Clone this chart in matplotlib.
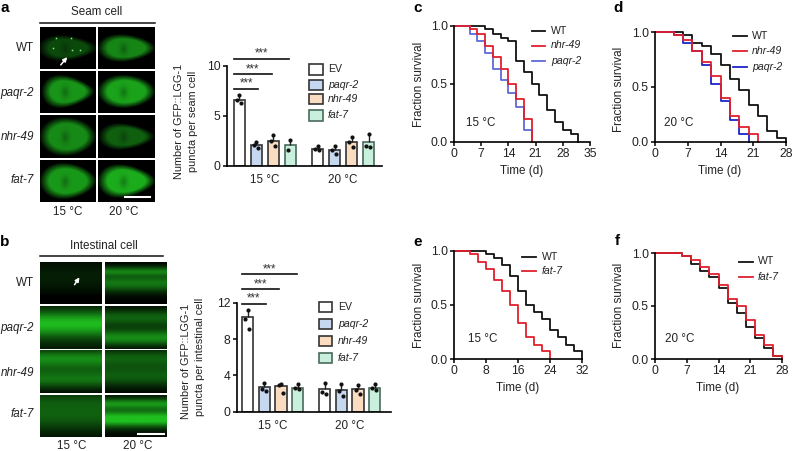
import numpy as np
import matplotlib
matplotlib.use('Agg')
import matplotlib.pyplot as plt
from matplotlib.colors import LinearSegmentedColormap
from matplotlib.patches import Rectangle

plt.rcParams['font.family'] = ['Liberation Sans', 'DejaVu Sans']
plt.rcParams['axes.linewidth'] = 1.2
TXT = '#222222'
LABEL = 8.4
BAR_LABEL = 7.8
TICK = 8.7
LEG = 7.6

# ─── Data ──────────────────────────────────────────────────────────────────────
genes = ['EV', 'paqr-2', 'nhr-49', 'fat-7']
bar_colors = ['#ffffff', '#c6d8f0', '#fadcc0', '#c8f0dc']
bar_edges = ['#333333', '#333333', '#333333', '#4a6a5c']
temps = ['15 °C', '20 °C']

seam_means = [6.6, 2.1, 2.5, 2.1, 1.75, 1.6, 2.4, 2.35]
seam_points = [[7.1, 6.6, 6.3], [2.4, 2.1, 1.8], [3.1, 2.5, 2.0], [2.6, 1.6],
               [2.0, 1.7, 1.6], [2.0, 1.6, 1.2], [2.9, 2.4, 1.9], [3.2, 2.0, 1.95]]
seam_ticks = [0, 5, 10]
seam_sig = [7.74, 9.2, 10.73]

gut_means = [10.4, 2.7, 2.8, 2.65, 2.45, 2.35, 2.5, 2.65]
gut_points = [[11.2, 10.2, 9.1], [3.2, 2.5, 2.3], [3.1, 2.9, 2.1], [3.1, 2.6, 2.5],
              [3.2, 2.2, 1.9], [3.1, 2.3, 1.7], [2.9, 2.4, 2.0], [3.1, 2.6, 2.4]]
gut_ticks = [0, 4, 8, 12]
gut_sig = [11.9, 13.47, 15.16]

# survival curves: days and fraction surviving from that day on
c_wt_days = [0, 8, 10, 12, 14, 16, 18, 20, 22, 24, 26, 28, 30, 32]
c_wt_surv = [1, .97, .93, .9, .87, .7, .6, .5, .4, .27, .17, .1, .07, 0]
c_nhr_days = [0, 4, 6, 8, 10, 12, 14, 16, 18, 20]
c_nhr_surv = [1, .97, .93, .83, .73, .63, .5, .37, .2, 0]
c_paqr_days = [0, 4, 6, 8, 10, 12, 14, 16, 18, 20]
c_paqr_surv = [1, .93, .87, .77, .63, .53, .42, .3, .1, 0]

d_wt_days = [0, 6, 8, 10, 12, 14, 16, 18, 20, 22, 24, 26, 28]
d_wt_surv = [1, .97, .9, .87, .8, .7, .57, .47, .33, .23, .1, .03, 0]
d_nhr_days = [0, 4, 6, 8, 10, 12, 14, 16, 18, 20, 22]
d_nhr_surv = [1, .97, .93, .83, .73, .6, .4, .23, .13, .07, 0]
d_paqr_days = [0, 4, 6, 8, 10, 12, 14, 16, 18, 20]
d_paqr_surv = [1, .97, .9, .83, .7, .53, .37, .2, .07, 0]

e_wt_days = [0, 8, 10, 12, 14, 16, 18, 20, 22, 24, 26, 28, 30, 32]
e_wt_surv = [1, .97, .93, .87, .77, .63, .5, .43, .37, .27, .2, .13, .07, 0]
e_fat_days = [0, 4, 6, 8, 10, 12, 14, 16, 18, 20, 22, 24]
e_fat_surv = [1, .97, .9, .83, .73, .63, .5, .33, .2, .13, .07, 0]

f_wt_days = [0, 6, 8, 10, 12, 14, 16, 18, 20, 22, 24, 26, 28]
f_wt_surv = [1, .97, .9, .83, .77, .67, .53, .43, .3, .2, .1, .03, 0]
f_fat_days = [0, 6, 8, 10, 12, 14, 16, 18, 20, 22, 24, 26, 28]
f_fat_surv = [1, .97, .93, .87, .8, .7, .57, .5, .37, .23, .13, .03, 0]

# micrograph look: seam = rx, ry, brightness, taper per panel; gut = (y, width, brightness) bands
seam_blobs = [(.49, .28, .38, .5), (.47, .30, .70, .4),
              (.44, .34, .78, .6), (.47, .36, .85, .2),
              (.47, .42, .72, .2), (.46, .28, .50, .5),
              (.47, .40, .80, .3), (.47, .36, .90, .5)]
gut_bands = [[(.35, .40, .16), (.85, .06, -.1)], [(.22, .10, .55), (.50, .22, .62), (.1, .08, .1)],
             [(.40, .30, .75), (.55, .55, .25)], [(.25, .18, .38), (.75, .18, .60), (.5, .4, .2)],
             [(.2, .22, .62), (.70, .22, .50), (.45, .3, .2)], [(.20, .22, .48), (.62, .25, .48)],
             [(.45, .45, .50), (.1, .2, .15)], [(.20, .12, .55), (.58, .18, .85), (.4, .4, .3)]]

W, H = 792, 451
fig = plt.figure(figsize=(W / 100, H / 100), dpi=100)
GREEN = LinearSegmentedColormap.from_list('gfp', ['#000000', '#1fbf1f'])


def px_axes(x0, y_top, x1, y_bottom):
    return fig.add_axes([x0 / W, 1 - y_bottom / H, (x1 - x0) / W, (y_bottom - y_top) / H])


# overlay in pixel coordinates for labels, legends and rules
ov = fig.add_axes([0, 0, 1, 1], zorder=10)
ov.set_xlim(0, W)
ov.set_ylim(H, 0)
ov.axis('off')


def put(x, y, s, **kw):
    kw.setdefault('ha', 'center')
    kw.setdefault('va', 'center')
    kw.setdefault('color', TXT)
    ov.text(x, y, s, **kw)


def seam_image(box, rx, ry, level, taper):
    yy, xx = np.mgrid[0:1:60j, 0:1:80j]
    # cell gets thinner towards the right
    local_ry = ry * (1 - taper * np.clip((xx - .5) / rx, -1, 1) * .6)
    r = np.sqrt(((xx - .5) / rx) ** 2 + ((yy - .5) / local_ry) ** 2)
    img = level * np.clip((1.1 - r) / .38, 0, 1)
    # dark nucleus
    img *= 1 - .25 * np.exp(-(((xx - .45) / .07) ** 2 + ((yy - .52) / .14) ** 2))
    ax = px_axes(*box)
    ax.imshow(img, cmap=GREEN, vmin=0, vmax=1, aspect='auto', extent=[0, 1, 1, 0])
    ax.axis('off')


def gut_image(box, bands):
    yy, xx = np.mgrid[0:1:60j, 0:1:80j]
    img = np.zeros_like(yy)
    for y, w, level in bands:
        img += level * np.exp(-((yy - y) / w) ** 2)
    ax = px_axes(*box)
    ax.imshow(np.clip(img, 0, 1), cmap=GREEN, vmin=0, vmax=1, aspect='auto', extent=[0, 1, 1, 0])
    ax.axis('off')


# ─── Micrographs a ─────────────────────────────────────────────────────────────
seam_cols = [(40, 96), (98, 155)]
seam_rows = [(27, 69), (71, 113), (115, 158), (160, 202)]
for i, (y0, y1) in enumerate(seam_rows):
    for j, (x0, x1) in enumerate(seam_cols):
        seam_image((x0, y0, x1, y1), *seam_blobs[i * 2 + j])

put(97, 12, 'Seam cell', fontsize=LABEL)
ov.plot([40, 155], [22.5, 22.5], color='#111111', lw=1.1)
for y, name in zip([48, 93, 137, 180], ['WT', 'paqr-2', 'nhr-49', 'fat-7']):
    put(34, y, name, ha='right', fontsize=LABEL, style='normal' if name == 'WT' else 'italic')
put(68, 212, temps[0], fontsize=LABEL)
put(124, 212, temps[1], fontsize=LABEL)
ov.plot([125, 150], [197, 197], color='white', lw=1.5)
ov.annotate('', xy=(69, 55), xytext=(59, 67),
            arrowprops=dict(arrowstyle='-|>', color='white', lw=1.1, mutation_scale=6))
for x, y in [(53, 48), (71, 38), (72, 50), (56, 38), (80, 50)]:
    ov.plot(x, y, 's', color='#7df07d', ms=1.1, mew=0)

# ─── Micrographs b ─────────────────────────────────────────────────────────────
gut_cols = [(40, 102), (105, 167)]
gut_rows = [(262, 304), (306, 349), (350, 393), (395, 437)]
for i, (y0, y1) in enumerate(gut_rows):
    for j, (x0, x1) in enumerate(gut_cols):
        gut_image((x0, y0, x1, y1), gut_bands[i * 2 + j])

put(104, 246, 'Intestinal cell', fontsize=LABEL)
ov.plot([40, 163], [256, 256], color='#111111', lw=1.1)
for y, name in zip([283, 328, 373, 414], ['WT', 'paqr-2', 'nhr-49', 'fat-7']):
    put(34, y, name, ha='right', fontsize=LABEL, style='normal' if name == 'WT' else 'italic')
put(72, 446, temps[0], fontsize=LABEL)
put(138, 446, temps[1], fontsize=LABEL)
ov.plot([138, 164], [434, 434], color='white', lw=1.5)
ov.annotate('', xy=(81, 275), xytext=(73, 287),
            arrowprops=dict(arrowstyle='-|>', color='white', lw=1.1, mutation_scale=6))

# ─── Bar charts ────────────────────────────────────────────────────────────────
bar_x = [0, 1, 2, 3, 4.6, 5.6, 6.6, 7.6]


def bar_panel(x_axis, x_right, y_top, y_bottom, first_bar, step, top_val, means, points, ticks, sig, sig_start, sig_ends):
    ax = px_axes(x_axis, y_top, x_right, y_bottom)
    ax.set_xlim((x_axis - first_bar) / step, (x_right - first_bar) / step)
    ax.set_ylim(0, top_val)
    ax.patch.set_alpha(0)
    ax.bar(bar_x, means, width=.68, color=bar_colors * 2, edgecolor=bar_edges * 2, linewidth=1.2)
    for x, m, pts in zip(bar_x, means, points):
        ax.errorbar(x, m, yerr=[[0], [max(pts) - m]], color='#222222', elinewidth=1.0, capsize=0)
        ax.scatter([x + d for d, _ in zip([0, -.14, .1], pts)], pts, s=9, color='#111111',
                   linewidths=0, zorder=5, clip_on=False)
    ax.set_xticks([1.5, 6.1])
    ax.set_xticklabels(temps, fontsize=LABEL, color=TXT)
    ax.tick_params(axis='x', length=0, pad=6)
    ax.set_yticks(ticks)
    ax.tick_params(axis='y', length=3, width=1.1, labelsize=TICK, labelcolor=TXT, pad=1.5)
    ax.spines[['top', 'right']].set_visible(False)
    for y, x_end in zip(sig, sig_ends):
        ax.plot([sig_start, x_end], [y, y], color='#111111', lw=1.2, clip_on=False)
        ax.text((sig_start + x_end) / 2, y - .12 * top_val / 10, '***', ha='center', va='bottom',
                fontsize=LABEL, color='#333333', clip_on=False)


bar_panel(227, 382, 66, 166, 239.3, 17, 10, seam_means, seam_points, seam_ticks, seam_sig, -.29, [1.12, 1.9, 2.94])
bar_panel(237, 391, 302.7, 411.7, 247.7, 16.7, 12, gut_means, gut_points, gut_ticks, gut_sig, -.36, [1.1, 1.89, 2.93])

put(179, 121, 'Number of GFP::LGG-1', rotation=90, fontsize=BAR_LABEL)
put(193, 121, 'puncta per seam cell', rotation=90, fontsize=BAR_LABEL)
put(186, 361, 'Number of GFP::LGG-1', rotation=90, fontsize=BAR_LABEL)
put(200, 357, 'puncta per intestinal cell', rotation=90, fontsize=BAR_LABEL)


def box_legend(x0, x1, spans, x_text):
    for (y0, y1), name, fc, ec in zip(spans, genes, bar_colors, bar_edges):
        ov.add_patch(Rectangle((x0, y0), x1 - x0, y1 - y0, fc=fc, ec=ec, lw=1.2))
        put(x_text, (y0 + y1) / 2, name, ha='left', fontsize=LEG, style='normal' if name == 'EV' else 'italic')


box_legend(309, 322.5, [(64, 75), (79.5, 89.5), (94, 104), (109.5, 120.5)], 328)
box_legend(319, 332, [(302, 312), (319, 329), (336, 346), (353, 363)], 338)

# ─── Survival curves ───────────────────────────────────────────────────────────
BLACK, RED = '#111111', '#e01f2d'


def surv_panel(x0, x1, y_top, y_bottom, xmax, xticks, curves):
    ax = px_axes(x0, y_top, x1, y_bottom)
    ax.set_xlim(0, xmax)
    ax.set_ylim(0, 1)
    for days, surv, color in curves:
        ax.plot(days, surv, drawstyle='steps-post', color=color, lw=1.3, clip_on=False)
    ax.set_xticks(xticks)
    ax.set_yticks([0, .5, 1])
    ax.set_yticklabels(['0.0', '0.5', '1.0'])
    ax.spines[['top', 'right']].set_visible(False)
    ax.tick_params(length=3, width=1.1, labelsize=TICK, labelcolor=TXT, pad=1.5)


surv_panel(454, 590, 26, 141.7, 35, [0, 7, 14, 21, 28, 35],
           [(c_wt_days, c_wt_surv, BLACK), (c_paqr_days, c_paqr_surv, '#5f6ad8'), (c_nhr_days, c_nhr_surv, RED)])
surv_panel(655, 786, 32, 141.7, 28, [0, 7, 14, 21, 28],
           [(d_wt_days, d_wt_surv, BLACK), (d_paqr_days, d_paqr_surv, '#1c24c8'), (d_nhr_days, d_nhr_surv, RED)])
surv_panel(454, 582, 250.7, 359, 32, [0, 8, 16, 24, 32],
           [(e_wt_days, e_wt_surv, BLACK), (e_fat_days, e_fat_surv, RED)])
surv_panel(655, 782, 253, 359, 28, [0, 7, 14, 21, 28],
           [(f_wt_days, f_wt_surv, BLACK), (f_fat_days, f_fat_surv, RED)])


def line_legend(x0, x1, x_text, rows):
    for y, name, color in rows:
        ov.plot([x0, x1], [y, y], color=color, lw=1.3)
        put(x_text, y, name, ha='left', fontsize=LEG, style='normal' if name == 'WT' else 'italic')


line_legend(531.5, 545, 551, [(30.5, 'WT', BLACK), (45.5, 'nhr-49', RED), (60.5, 'paqr-2', '#5f6ad8')])
line_legend(732.5, 746.5, 752, [(36, 'WT', BLACK), (51, 'nhr-49', RED), (66.5, 'paqr-2', '#1c24c8')])
line_legend(522, 536, 541.5, [(256.5, 'WT', BLACK), (271, 'fat-7', RED)])
line_legend(739, 753, 758, [(261.5, 'WT', BLACK), (276.5, 'fat-7', RED)])

for x, y, s in [(481, 123, temps[0]), (679, 123, temps[1]), (483, 339, temps[0]), (680, 339, temps[1])]:
    put(x, y, s, fontsize=LABEL)
for x, y in [(522, 171), (720, 171), (518, 388), (718, 388)]:
    put(x, y, 'Time (d)', fontsize=LABEL)
for x, y in [(419, 84), (619, 89), (419, 305), (619, 305)]:
    put(x, y, 'Fraction survival', rotation=90, fontsize=LABEL)

# panel letters
for x, y, s in [(5, 8, 'a'), (5, 242, 'b'), (418, 8, 'c'), (618, 8, 'd'), (418, 242, 'e'), (617, 241, 'f')]:
    put(x, y, s, fontsize=11, fontweight='bold', color='black')

fig.savefig('out.png', dpi=100)
